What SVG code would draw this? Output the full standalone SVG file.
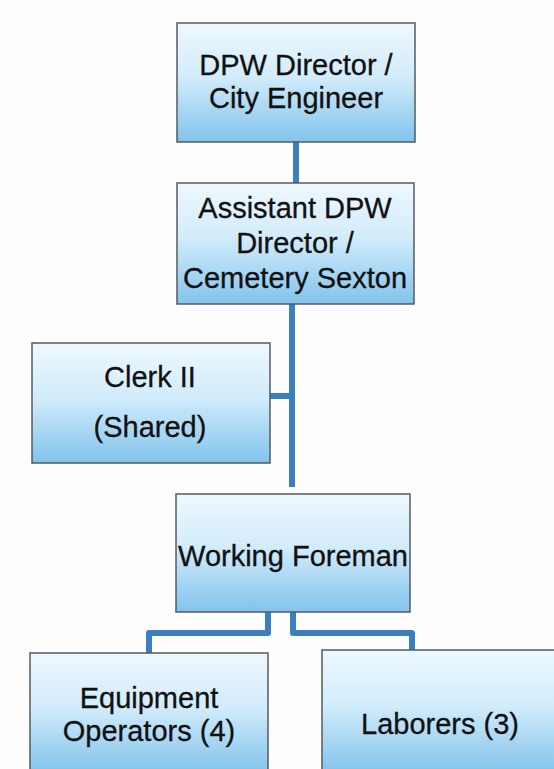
<svg xmlns="http://www.w3.org/2000/svg" width="554" height="769" viewBox="0 0 554 769">
<defs>
<linearGradient id="g" x1="0" y1="0" x2="0" y2="1">
<stop offset="0" stop-color="#eef8fe"/>
<stop offset="0.45" stop-color="#d2ecfb"/>
<stop offset="1" stop-color="#82c3ec"/>
</linearGradient>
<style>
.box{fill:url(#g);stroke:#555a60;stroke-width:1.5}
.t{font-family:"Liberation Sans",Arial,sans-serif;font-size:29px;fill:#111;stroke:#111;stroke-width:0.3;text-anchor:middle}
.c{fill:none;stroke:#3b7fbf;stroke-width:6;stroke-linejoin:round}
</style>
</defs>
<rect width="554" height="769" fill="#fdfdfd"/>
<g id="connectors">
<path class="c" d="M296 142V183"/>
<path class="c" d="M292 304V487"/>
<path class="c" d="M270 396H292"/>
<path class="c" d="M268 612V633H149V653"/>
<path class="c" d="M293 612V633H412V650"/>
</g>
<g id="n1">
<rect class="box" x="177" y="23" width="238" height="119"/>
<text class="t" x="296" y="75">DPW Director /</text>
<text class="t" x="296" y="108">City Engineer</text>
</g>
<g id="n2">
<rect class="box" x="177" y="183" width="237" height="121"/>
<text class="t" x="295" y="218">Assistant DPW</text>
<text class="t" x="295" y="253">Director /</text>
<text class="t" x="295" y="288">Cemetery Sexton</text>
</g>
<g id="n3">
<rect class="box" x="32" y="343" width="238" height="120"/>
<text class="t" x="150" y="387">Clerk II</text>
<text class="t" x="150" y="437">(Shared)</text>
</g>
<g id="n4">
<rect class="box" x="176" y="494" width="234" height="118"/>
<text class="t" x="293" y="566">Working Foreman</text>
</g>
<g id="n5">
<rect class="box" x="30" y="653" width="238" height="120"/>
<text class="t" x="149" y="708">Equipment</text>
<text class="t" x="149" y="741">Operators (4)</text>
</g>
<g id="n6">
<rect class="box" x="322" y="650" width="240" height="123"/>
<text class="t" x="440" y="734">Laborers (3)</text>
</g>
</svg>
